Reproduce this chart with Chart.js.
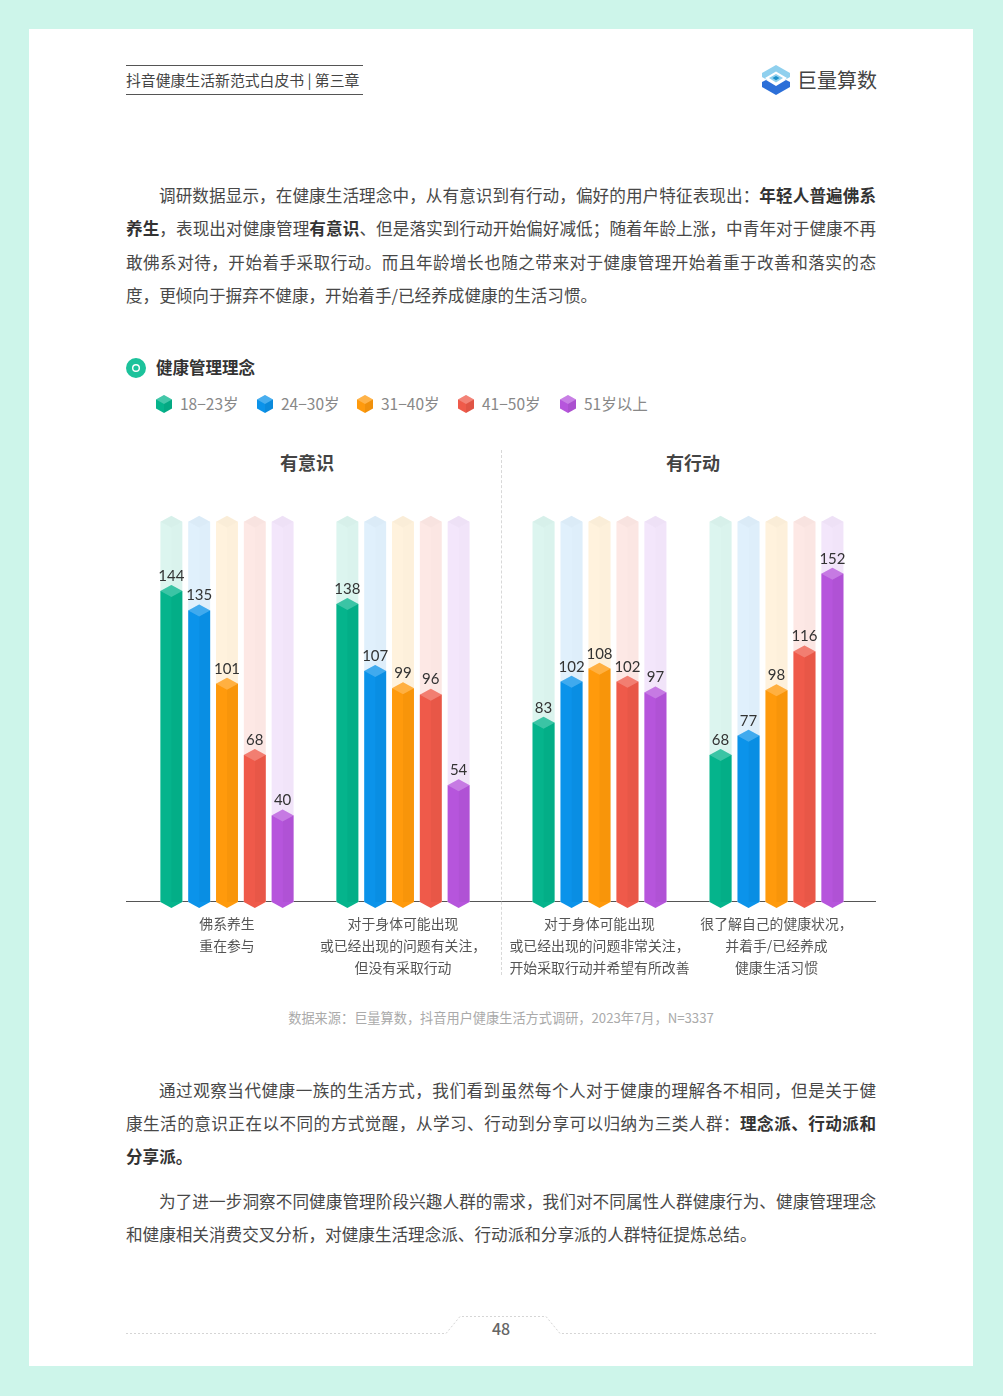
<!DOCTYPE html>
<html lang="zh">
<head>
<meta charset="utf-8">
<script src="https://cdn.jsdelivr.net/npm/chart.js@4"></script>
<style>
  html, body { margin: 0; padding: 0; }
  body { width: 1003px; height: 1396px; background: #cdf5ea; position: relative; overflow: hidden;
         font-family: "Noto Sans CJK SC", "Noto Sans", sans-serif; }
  #sheet { position: absolute; left: 29px; top: 29px; width: 944px; height: 1337px; background: #fff; }
  .abs { position: absolute; white-space: nowrap; }
  .line { position: absolute; left: 126px; width: 750px; height: 34px; line-height: 34px; font-size: 16.6px; color: #484848;
          white-space: normal; text-align: justify; text-align-last: justify; }
  .line.first { left: 159px; width: 717px; }
  .line.end { text-align-last: left; }
  .line b { color: #333; }
  canvas { position: absolute; top: 450px; }
</style>
</head>
<body>
<div id="sheet"></div>

<!-- header -->
<div class="abs" style="left:126px;top:65px;width:237px;height:28px;border-top:1px solid #555;border-bottom:1px solid #555;line-height:28px;font-size:14.85px;color:#444">抖音健康生活新范式白皮书 | 第三章</div>
<svg class="abs" style="left:760px;top:63px" width="32" height="34" viewBox="0 0 32 34">
  <path d="M16 2 L30 10 V14 L24 17.5 L27 15 L16 8.5 L5 15 L8 17.5 L2 14 V10 Z" fill="#8fd0ee"/>
  <path d="M16 11 L23 15 L16 19.5 L9 15 Z" fill="#8fd0ee"/>
  <path d="M16 13 L19.5 15 L16 17.2 L12.5 15 Z" fill="#1c8fc9"/>
  <path d="M2 19 L6 17 L16 23 L26 17 L30 19 V24 L16 32 L2 24 Z" fill="#2c6fd8"/>
</svg>
<div class="abs" style="left:797px;top:64px;line-height:32px;font-size:20px;color:#444">巨量算数</div>

<!-- intro -->
<div class="line first" style="top:178px">调研数据显示，在健康生活理念中，从有意识到有行动，偏好的用户特征表现出：<b>年轻人普遍佛系</b></div>
<div class="line" style="top:211px"><b>养生</b>，表现出对健康管理<b>有意识</b>、但是落实到行动开始偏好减低；随着年龄上涨，中青年对于健康不再</div>
<div class="line" style="top:245px">敢佛系对待，开始着手采取行动。而且年龄增长也随之带来对于健康管理开始着重于改善和落实的态</div>
<div class="line end" style="top:278px">度，更倾向于摒弃不健康，开始着手/已经养成健康的生活习惯。</div>

<!-- section heading -->
<svg class="abs" style="left:126px;top:358px" width="20" height="20" viewBox="0 0 20 20">
  <circle cx="10" cy="10" r="7" fill="#fff" stroke="#1cc29b" stroke-width="6"/>
  <circle cx="10" cy="10" r="2.6" fill="#1cc29b"/>
</svg>
<div class="abs" style="left:156px;top:355px;line-height:24px;font-size:16.5px;font-weight:700;color:#333">健康管理理念</div>
<div id="legend"></div>

<div class="abs" style="left:307px;top:449px;transform:translateX(-50%);line-height:26px;font-size:18px;font-weight:700;color:#444">有意识</div>
<div class="abs" style="left:693px;top:449px;transform:translateX(-50%);line-height:26px;font-size:18px;font-weight:700;color:#444">有行动</div>

<canvas id="left" width="375" height="535" style="left:126px"></canvas>
<canvas id="right" width="375" height="535" style="left:501px"></canvas>
<div class="abs" style="left:501px;top:450px;height:525px;border-left:1px dashed #d8d8d8"></div>

<div class="abs" style="left:501px;top:1008px;transform:translateX(-50%);line-height:20px;font-size:13.2px;color:#aaa">数据来源：巨量算数，抖音用户健康生活方式调研，2023年7月，N=3337</div>

<!-- body text below the chart -->
<div class="line first" style="top:1073px">通过观察当代健康一族的生活方式，我们看到虽然每个人对于健康的理解各不相同，但是关于健</div>
<div class="line" style="top:1106px">康生活的意识正在以不同的方式觉醒，从学习、行动到分享可以归纳为三类人群：<b>理念派、行动派和</b></div>
<div class="line end" style="top:1139px"><b>分享派。</b></div>
<div class="line first" style="top:1184px">为了进一步洞察不同健康管理阶段兴趣人群的需求，我们对不同属性人群健康行为、健康管理理念</div>
<div class="line end" style="top:1217px">和健康相关消费交叉分析，对健康生活理念派、行动派和分享派的人群特征提炼总结。</div>

<!-- footer -->
<svg class="abs" style="left:126px;top:1310px" width="750" height="30">
  <path d="M0 23.5 H320 L334 6.5 H420 L434 23.5 H750" fill="none" stroke="#d5d5d5" stroke-dasharray="2 2"/>
</svg>
<div class="abs" style="left:501px;top:1316px;transform:translateX(-50%);line-height:24px;font-size:16px;font-weight:500;color:#666">48</div>

<script>
const ageGroups = ['18-23岁', '24-30岁', '31-40岁', '41-50岁', '51岁以上']
const colors = ['#05b48c', '#0b93ea', '#ff9a0c', '#ef5a4a', '#b655dc']
const paleColors = ['#dcf5ef', '#e0f0fc', '#fff2dd', '#fde8e5', '#f3e6fb']
const legendX = [156, 257, 357, 458, 560]

const consciousCats = [['佛系养生', '重在参与'], ['对于身体可能出现', '或已经出现的问题有关注，', '但没有采取行动']]
const consciousVals = [[144, 138], [135, 107], [101, 99], [68, 96], [40, 54]]

const actionCats = [['对于身体可能出现', '或已经出现的问题非常关注，', '开始采取行动并希望有所改善'], ['很了解自己的健康状况，', '并着手/已经养成', '健康生活习惯']]
const actionVals = [[83, 68], [102, 77], [108, 98], [102, 116], [97, 152]]

const ghostValue = 176 // the pale column behind every bar
const capH = 6

// legend with the little cube icons
ageGroups.forEach((name, i) => {
  const d = document.createElement('div')
  d.className = 'abs'
  d.style.cssText = `left:${legendX[i]}px;top:391px;line-height:24px;font-size:15.5px;color:#888`
  d.innerHTML = `<svg style="position:absolute;left:0;top:4px" width="16" height="18" viewBox="0 0 16 18">
    <path d="M8 0 L16 4.5 V13.5 L8 18 L0 13.5 V4.5 Z" fill="${colors[i]}"/>
    <path d="M8 0 L16 4.5 L8 9 L0 4.5 Z" fill="#fff" opacity=".25"/>
    <path d="M8 9 L16 4.5 V13.5 L8 18 Z" fill="#000" opacity=".06"/></svg>
    <span style="margin-left:24px">${name.replace('-', '−')}</span>`
  document.getElementById('legend').appendChild(d)
})

// flat bars come from chart.js, this adds the base line, the 3d faces and the numbers
const cubePlugin = {
  id: 'cube',
  beforeDatasetsDraw(chart) {
    const c = chart.ctx
    const y = chart.scales.y.getPixelForValue(0) - 0.5
    c.save()
    c.strokeStyle = '#555'
    c.lineWidth = 1
    c.beginPath()
    c.moveTo(0, y)
    c.lineTo(chart.width, y)
    c.stroke()
    c.restore()
  },
  afterDatasetsDraw(chart) {
    const c = chart.ctx
    // chart.js paints the last dataset first, so go the same way here
    for (let i = chart.data.datasets.length - 1; i >= 0; i--) {
      const ds = chart.data.datasets[i]
      chart.getDatasetMeta(i).data.forEach((bar, j) => {
        const w = bar.width / 2
        c.save()
        // right face
        c.fillStyle = ds.ghost ? 'rgba(0,0,0,0.008)' : 'rgba(0,0,0,0.02)'
        c.fillRect(bar.x, bar.y, w, bar.base - bar.y)
        if (!ds.ghost) {
          // pointed foot
          c.fillStyle = ds.backgroundColor
          c.beginPath()
          c.moveTo(bar.x - w, bar.base)
          c.lineTo(bar.x + w, bar.base)
          c.lineTo(bar.x, bar.base + capH)
          c.closePath()
          c.fill()
        }
        // top face
        c.fillStyle = ds.backgroundColor
        c.beginPath()
        c.moveTo(bar.x - w, bar.y)
        c.lineTo(bar.x, bar.y - capH)
        c.lineTo(bar.x + w, bar.y)
        c.lineTo(bar.x, bar.y + capH)
        c.closePath()
        c.fill()
        c.fillStyle = ds.ghost ? 'rgba(0,0,0,0.02)' : 'rgba(255,255,255,0.22)'
        c.fill()
        if (!ds.ghost) {
          c.fillStyle = '#333'
          c.font = '15px Lato, "Noto Sans", sans-serif'
          c.textAlign = 'center'
          c.textBaseline = 'middle'
          c.fillText(ds.data[j], bar.x, bar.y - capH - 9)
        }
        c.restore()
      })
    }
  }
}

function makeChart(id, cats, vals, padLeft, padRight) {
  const datasets = []
  ageGroups.forEach((name, i) => {
    datasets.push({ label: name, stack: name, data: vals[i], backgroundColor: colors[i] })
  })
  ageGroups.forEach((name, i) => {
    datasets.push({ label: name + ' bg', ghost: true, stack: name, data: cats.map(() => ghostValue), backgroundColor: paleColors[i] })
  })
  return new Chart(document.getElementById(id), {
    type: 'bar',
    data: { labels: cats, datasets: datasets },
    options: {
      responsive: false,
      animation: false,
      categoryPercentage: 0.79,
      barPercentage: 0.79,
      layout: { padding: { left: padLeft, right: padRight, top: 41.6, bottom: 0 } },
      plugins: { legend: { display: false }, tooltip: { enabled: false } },
      scales: {
        x: {
          grid: { display: false },
          border: { display: false },
          afterFit: s => { s.height = 83; s.paddingLeft = 0; s.paddingRight = 0 },
          ticks: {
            autoSkip: false,
            maxRotation: 0,
            padding: 3,
            color: '#555',
            font: { family: '"Noto Sans CJK SC"', size: 13.85, lineHeight: 22 / 13.85 }
          }
        },
        y: { display: false, stacked: false, min: 0, max: 190 }
      }
    },
    plugins: [cubePlugin]
  })
}

makeChart('left', consciousCats, consciousVals, 13, 10)
makeChart('right', actionCats, actionVals, 10, 11)
</script>
</body>
</html>
